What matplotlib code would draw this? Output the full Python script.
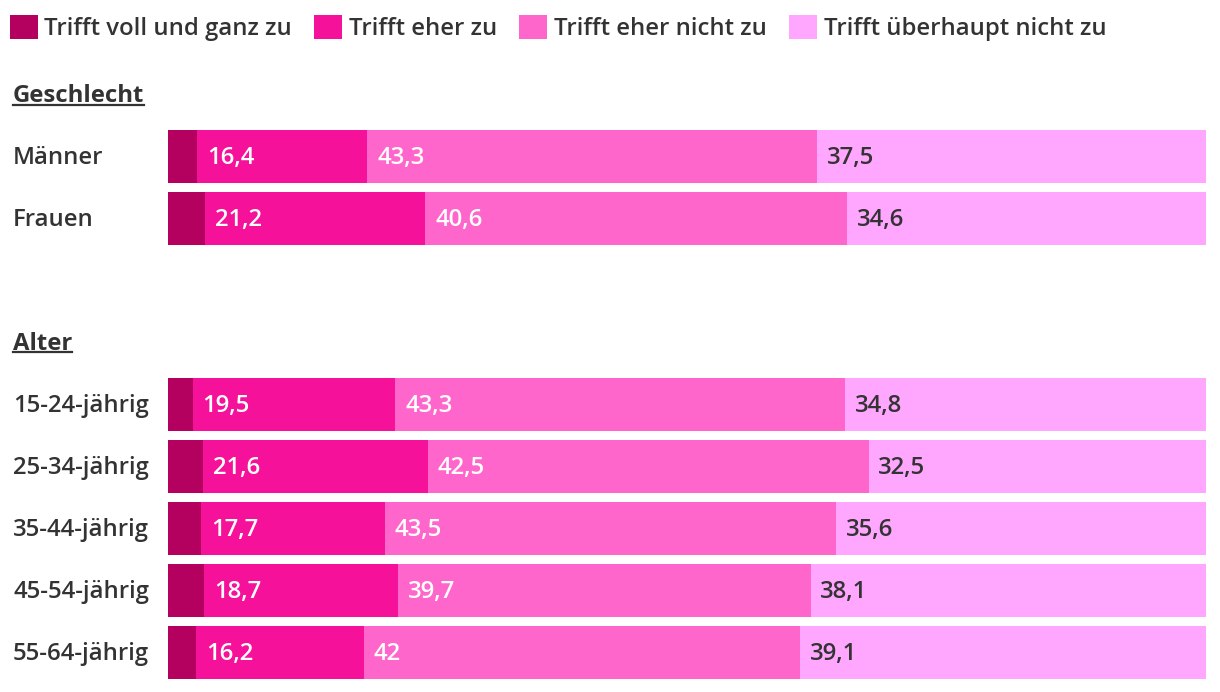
import numpy as np
import matplotlib.pyplot as plt
from matplotlib.transforms import blended_transform_factory
from matplotlib.patches import Patch
from matplotlib.lines import Line2D

plt.rcParams['font.family'] = ['Open Sans', 'DejaVu Sans']

series = ['Trifft voll und ganz zu', 'Trifft eher zu', 'Trifft eher nicht zu', 'Trifft überhaupt nicht zu']
colors = ['#b4005f', '#f5119a', '#ff66cc', '#ffa6ff']

groups = ['Geschlecht', 'Alter']
rows = ['Männer', 'Frauen', '15-24-jährig', '25-34-jährig', '35-44-jährig', '45-54-jährig', '55-64-jährig']
voll = [2.8, 3.6, 2.4, 3.4, 3.2, 3.5, 2.7]
eher = [16.4, 21.2, 19.5, 21.6, 17.7, 18.7, 16.2]
eher_nicht = [43.3, 40.6, 43.3, 42.5, 43.5, 39.7, 42.0]
gar_nicht = [37.5, 34.6, 34.8, 32.5, 35.6, 38.1, 39.1]

# row slots, with a gap for the group header
ypos = [0, 1, 4, 5, 6, 7, 8]
header_pos = [-1, 3]

W, H = 1220, 692
fig = plt.figure(figsize=(W / 100, H / 100), dpi=100)
ax = fig.add_axes([168 / W, 0, 1038 / W, 1])
ax.set_xlim(0, 100)
ax.set_ylim((H - 156.5) / 62, -156.5 / 62)
ax.axis('off')

text_col = '#333333'
fs = 17.2
wt = 'semibold'

data = [voll, eher, eher_nicht, gar_nicht]
left = np.zeros(len(rows))
for k, vals in enumerate(data):
    vals = np.array(vals)
    ax.barh(ypos, vals, left=left, height=53 / 62, color=colors[k], linewidth=0)
    if k > 0:
        for y, l, v in zip(ypos, left, vals):
            lab = ('%g' % v).replace('.', ',')
            ax.annotate(lab, (l, y + 0.03), xytext=(7, 0), textcoords='offset points',
                        ha='left', va='center', fontsize=fs, fontweight=wt,
                        color=text_col if k == 3 else 'white')
    left += vals

tr = blended_transform_factory(fig.transFigure, ax.transData)
for y, r in zip(ypos, rows):
    ax.text(13 / W, y + 0.02, r, transform=tr, ha='left', va='center', fontsize=fs,
            fontweight=wt, color=text_col)

fig.canvas.draw()
renderer = fig.canvas.get_renderer()
for y, g in zip(header_pos, groups):
    t = ax.text(13 / W, y + 0.02, g, transform=tr, ha='left', va='center', fontsize=fs,
                fontweight='bold', color=text_col)
    bb = t.get_window_extent(renderer)
    yline = 1 - 104.5 / H if g == 'Geschlecht' else 1 - 352.5 / H
    fig.add_artist(Line2D([bb.x0 / W, bb.x1 / W], [yline, yline], transform=fig.transFigure,
                          color=text_col, linewidth=1.6))

handles = [Patch(facecolor=c, edgecolor='none') for c in colors]
fig.legend(handles, series, loc='upper left', bbox_to_anchor=(0, 1 - 5 / H), ncol=4,
           frameon=False, prop={'size': fs, 'weight': wt}, handlelength=1.17, handleheight=1.17,
           handletextpad=0.29, columnspacing=0.92, labelcolor=text_col, borderaxespad=0)

fig.savefig('out.png', dpi=100)
